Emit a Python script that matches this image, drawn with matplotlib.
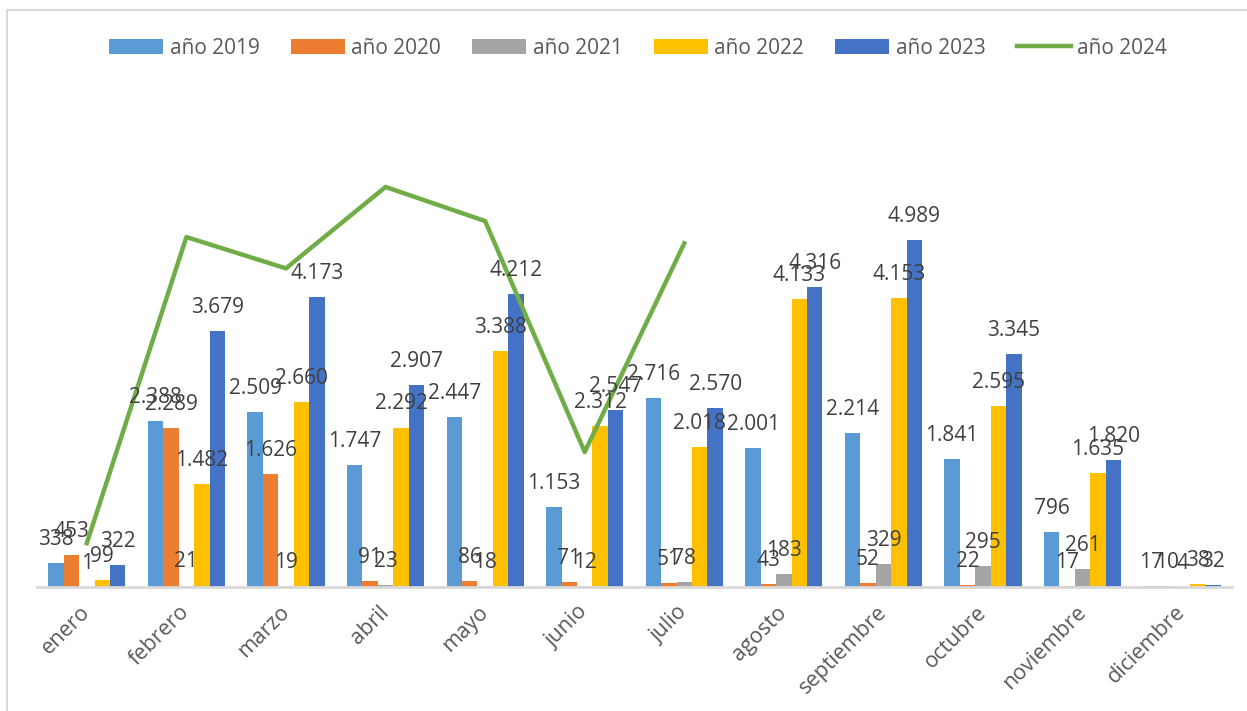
import matplotlib
matplotlib.use("Agg")
import matplotlib.pyplot as plt
import numpy as np
from matplotlib.patches import Rectangle

meses = ["enero", "febrero", "marzo", "abril", "mayo", "junio", "julio",
         "agosto", "septiembre", "octubre", "noviembre", "diciembre"]
anio_2019 = [338, 2388, 2509, 1747, 2447, 1153, 2716, 2001, 2214, 1841, 796, 17]
anio_2020 = [453, 2289, 1626, 91, 86, 71, 51, 43, 52, 22, 17, 10]
anio_2021 = [1, 21, 19, 23, 18, 12, 78, 183, 329, 295, 261, 4]
anio_2022 = [99, 1482, 2660, 2292, 3388, 2312, 2018, 4133, 4153, 2595, 1635, 38]
anio_2023 = [322, 3679, 4173, 2907, 4212, 2547, 2570, 4316, 4989, 3345, 1820, 32]
anio_2024 = [630, 5030, 4580, 5750, 5260, 1940, 4940]
series_names = ["año 2019", "año 2020", "año 2021", "año 2022", "año 2023", "año 2024"]

colors = ["#5B9BD5", "#ED7D31", "#A5A5A5", "#FFC000", "#4472C4"]
line_color = "#70AD47"

plt.rcParams['font.family'] = ['Open Sans', 'DejaVu Sans']
W, H = 1247, 711
fig = plt.figure(figsize=(W / 100, H / 100), dpi=100)
ax = fig.add_axes([37 / W, (H - 587) / H, (1232 - 37) / W, (587 - 100) / H])

x = np.arange(len(meses))
bw = 0.155
bars_data = [anio_2019, anio_2020, anio_2021, anio_2022, anio_2023]
handles = []
for j, (vals, c) in enumerate(zip(bars_data, colors)):
    pos = x + (j - 2) * bw
    b = ax.bar(pos, vals, width=bw, color=c, zorder=2, label=series_names[j])
    handles.append(b)
    for px, v in zip(pos, vals):
        ax.annotate(f"{v:,}".replace(",", "."), (px, v), xytext=(0, 13),
                    textcoords="offset points", ha="center", va="baseline",
                    fontsize=15, color="#404040", zorder=5)

ln, = ax.plot(x[:len(anio_2024)], anio_2024, color=line_color, lw=3.2, zorder=4,
              label=series_names[5])
handles.append(ln)

ax.set_xlim(-0.5, len(meses) - 0.5)
ax.set_ylim(0, 7000)
ax.set_yticks([])
ax.set_xticks(x)
ax.set_xticklabels(meses, rotation=45, ha="right", va="center",
                   rotation_mode="anchor", fontsize=15.5, color="#595959")
ax.tick_params(axis="x", length=0, pad=16)
for s in ["top", "right", "left"]:
    ax.spines[s].set_visible(False)
ax.spines["bottom"].set_color("#D9D9D9")
ax.spines["bottom"].set_linewidth(2)
ax.patch.set_visible(False)

leg = fig.legend(handles=handles, labels=series_names, loc="center",
                 bbox_to_anchor=(638 / W, (H - 48) / H), ncol=6, frameon=False,
                 fontsize=15, handlelength=2.6, handleheight=0.7,
                 handletextpad=0.3, columnspacing=1.5, labelcolor="#595959")

fig.patches.append(Rectangle((7 / W, -0.1), 1.2, (H - 10) / H + 0.1,
                             transform=fig.transFigure, fill=False,
                             edgecolor="#D9D9D9", lw=1.5, zorder=0))

fig.savefig("out.png", dpi=100)
